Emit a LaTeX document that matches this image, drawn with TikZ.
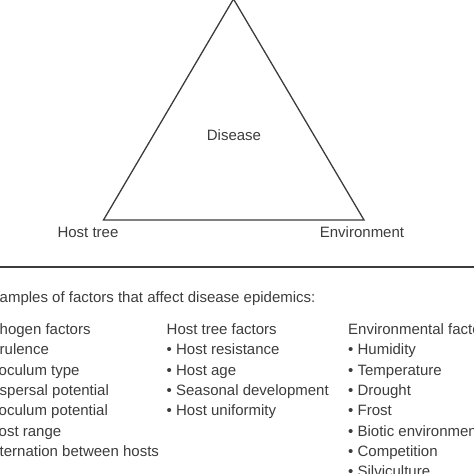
\documentclass[tikz,border=0pt]{standalone}
\usepackage{fontspec}
\setmainfont{Liberation Sans}
\usepackage{tikz}
\definecolor{inkgray}{HTML}{3C3C3C}

\begin{document}
\begin{tikzpicture}[x=1pt,y=-1pt,
  lbl/.style={inkgray, inner sep=0pt, text height=11pt, text depth=2pt, font=\fontsize{15}{18}\selectfont},
  item/.style={lbl, anchor=west}]
                        \useasboundingbox (0,0) rectangle (474,474);
                        \clip (0,0) rectangle (474,474);

                        % Triangle corners
                        \coordinate (apex) at (233.5,-1);
                        \coordinate (hostc) at (103.5,220);
                        \coordinate (envc) at (364,220);

                        % Triangle labels
                        \node[lbl] (disease) at (234,136) {Disease};
                        \node[lbl] (host) at (88,233) {Host tree};
                        \node[lbl] (env) at (362,233) {Environment};

                        % Edges
                        \draw[inkgray, line width=1.3pt, line join=miter] (apex) -- (hostc) -- (envc) -- cycle;

                        % Rule
                        \coordinate (ruleL) at (0,267);
                        \coordinate (ruleR) at (474,267);
                        \draw[inkgray, line width=2pt] (ruleL) -- (ruleR);

                        % Heading
                        \node[item] (head) at (-0.5,298) {amples of factors that affect disease epidemics:};

                        % Pathogen column
                        \node[item] (pat0) at (-0.5,330) {hogen factors};
                        \node[item] (pat1) at (-0.5,350.3) {rulence};
                        \node[item] (pat2) at (-1.5,370.6) {oculum type};
                        \node[item] (pat3) at (-0.5,391) {spersal potential};
                        \node[item] (pat4) at (-1.5,411.3) {oculum potential};
                        \node[item] (pat5) at (-1.5,431.6) {ost range};
                        \node[item] (pat6) at (-0.5,452) {ternation between hosts};

                        % Host tree column
                        \node[item] (hst0) at (166.5,330) {Host tree factors};
                        \node[item] (hst1) at (166.5,350.3) {• Host resistance};
                        \node[item] (hst2) at (166.5,370.6) {• Host age};
                        \node[item] (hst3) at (166.5,391) {• Seasonal development};
                        \node[item] (hst4) at (166.5,411.3) {• Host uniformity};

                        % Environment column
                        \node[item] (evn0) at (348,330) {Environmental factors};
                        \node[item] (evn1) at (348,350.3) {• Humidity};
                        \node[item] (evn2) at (348,370.6) {• Temperature};
                        \node[item] (evn3) at (348,391) {• Drought};
                        \node[item] (evn4) at (348,411.3) {• Frost};
                        \node[item] (evn5) at (348,431.6) {• Biotic environment};
                        \node[item] (evn6) at (348,452) {• Competition};
                        \node[item] (evn7) at (348,472.3) {• Silviculture};
                    \end{tikzpicture}
\end{document}
